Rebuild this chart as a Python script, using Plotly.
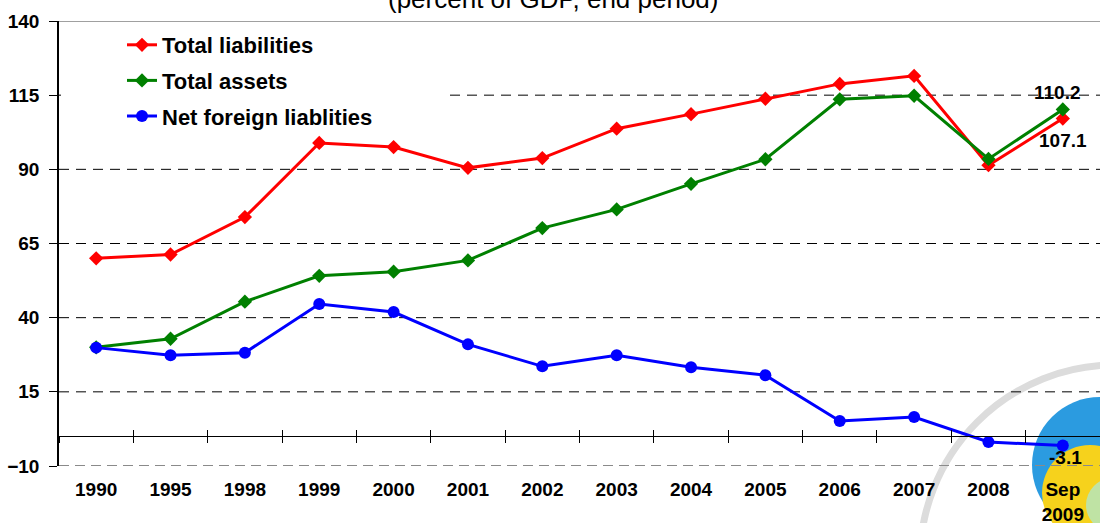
import plotly.graph_objects as go

# ---------------- data ----------------
categories = ["1990", "1995", "1998", "1999", "2000", "2001", "2002", "2003",
              "2004", "2005", "2006", "2007", "2008", "Sep<br>2009"]
total_liabilities = [60.0, 61.3, 73.9, 98.9, 97.5, 90.5, 93.8, 103.7, 108.6, 113.8, 118.8, 121.5, 91.4, 107.1]
total_assets = [30.0, 32.9, 45.4, 54.1, 55.5, 59.3, 70.2, 76.5, 85.1, 93.4, 113.6, 114.8, 93.5, 110.2]
net_foreign = [29.9, 27.3, 28.2, 44.6, 41.9, 31.0, 23.6, 27.3, 23.3, 20.6, 5.2, 6.5, -1.9, -3.1]
y_ticks = [-10, 15, 40, 65, 90, 115, 140]
title_text = "(percent of GDP, end period)"

FONT = "Liberation Sans, Arial, sans-serif"

# plot-area geometry in pixels (for decorative shapes only)
L, R, T, B = 59, 1100, 21, 466
def px(x):
    return (x - L) / (R - L)
def py(y):
    return (B - y) / (B - T)

fig = go.Figure()

fig.add_trace(go.Scatter(
    x=categories, y=total_liabilities, name="Total liabilities", legendgroup="a",
    mode="lines+markers", line=dict(color="#ff0000", width=3),
    marker=dict(symbol="diamond", size=11, color="#ff0000")))
fig.add_trace(go.Scatter(
    x=categories, y=total_assets, name="Total assets", legendgroup="b",
    mode="lines+markers", line=dict(color="#008000", width=3),
    marker=dict(symbol="diamond", size=11, color="#008000")))
fig.add_trace(go.Scatter(
    x=categories, y=net_foreign, name="Net foreign liablities", legendgroup="c",
    mode="lines+markers", line=dict(color="#0000ff", width=3),
    marker=dict(symbol="circle", size=12, color="#0000ff")))

# invisible helper traces so the zero-line axes know the categories
for ax in ["x2", "x3"]:
    fig.add_trace(go.Scatter(x=categories, y=total_liabilities, xaxis=ax, mode="lines",
                             line=dict(width=0, color="rgba(0,0,0,0)"), showlegend=False,
                             hoverinfo="skip"))

shapes = []
# decorative logo (watermark)
shapes.append(dict(type="circle", xref="paper", yref="paper", layer="below",
                   x0=px(920), x1=px(1310), y0=py(365), y1=py(755),
                   line=dict(color="#dcdcdc", width=7)))
shapes.append(dict(type="circle", xref="paper", yref="paper", layer="below",
                   x0=px(1032), x1=px(1168), y0=py(397), y1=py(533),
                   fillcolor="#2b9be0", line=dict(width=0)))
shapes.append(dict(type="circle", xref="paper", yref="paper", layer="below",
                   x0=px(1042), x1=px(1138), y0=py(445), y1=py(541),
                   fillcolor="#f6d21c", line=dict(width=0)))
shapes.append(dict(type="circle", xref="paper", yref="paper", layer="below",
                   x0=px(1086), x1=px(1140), y0=py(478), y1=py(532),
                   fillcolor="#bfe3a4", line=dict(width=0)))

# gridlines
for v in y_ticks:
    if v == 140:
        ln = dict(color="#a0a0a0", width=2)
    elif v == -10:
        ln = dict(color="#8a8a8a", width=2, dash="10px,6px")
    else:
        ln = dict(color="#000000", width=1, dash="10px,7px")
    shapes.append(dict(type="line", xref="paper", yref="y", layer="below",
                       x0=0, x1=1, y0=v, y1=v, line=ln))
# white legend box hiding the grid behind it
shapes.append(dict(type="rect", xref="paper", yref="paper", layer="below",
                   x0=px(61), x1=px(443), y0=py(135), y1=py(28),
                   fillcolor="white", line=dict(width=0)))

annotations = [
    dict(x=categories[-1], y=total_assets[-1], text="110.2", showarrow=False,
         xshift=-5, yshift=17, font=dict(family=FONT, size=19, color="black", weight="bold")),
    dict(x=categories[-1], y=total_liabilities[-1], text="107.1", showarrow=False,
         xshift=0, yshift=-22, font=dict(family=FONT, size=19, color="black", weight="bold")),
    dict(x=categories[-1], y=net_foreign[-1], text="-3.1", showarrow=False,
         xshift=3, yshift=-12, font=dict(family=FONT, size=19, color="black", weight="bold")),
    dict(xref="paper", yref="paper", x=px(553), y=py(-1), text=title_text, showarrow=False,
         xanchor="center", yanchor="middle",
         font=dict(family=FONT, size=26, color="black")),
]

axis_common = dict(type="category", categoryorder="array", categoryarray=categories,
                   range=[-0.5, len(categories) - 0.5], showgrid=False, zeroline=False,
                   automargin=False)

fig.update_layout(
    template="none",
    width=1100, height=523,
    margin=dict(l=L, r=1100 - R, t=T, b=523 - B, pad=0),
    paper_bgcolor="white", plot_bgcolor="white",
    font=dict(family=FONT, color="black"),
    showlegend=True,
    legend=dict(x=px(122), y=py(24), xanchor="left", yanchor="top",
                bgcolor="rgba(0,0,0,0)", tracegroupgap=4,
                font=dict(family=FONT, size=22, color="black", weight="bold")),
    xaxis=dict(**axis_common, showline=False, ticks="outside", ticklen=0,
               ticklabelstandoff=6,
               tickfont=dict(family=FONT, size=19, color="black", weight="bold")),
    xaxis2=dict(**axis_common, overlaying="x", anchor="free", position=10 / 150,
                showline=True, linecolor="black", linewidth=1.2,
                ticks="outside", tickson="boundaries", ticklen=6, tickcolor="black",
                showticklabels=False),
    xaxis3=dict(**axis_common, overlaying="x", anchor="free", position=10 / 150,
                showline=False, ticks="inside", tickson="boundaries", ticklen=6,
                tickcolor="black", showticklabels=False),
    yaxis=dict(range=[-10, 140], tickvals=y_ticks, showgrid=False, zeroline=False,
               automargin=False,
               showline=True, linecolor="black", linewidth=1.5,
               ticks="outside", ticklen=8, tickcolor="black", ticklabelstandoff=6,
               tickfont=dict(family=FONT, size=19, color="black", weight="bold")),
    shapes=shapes, annotations=annotations,
)

fig.write_html("out.html")
